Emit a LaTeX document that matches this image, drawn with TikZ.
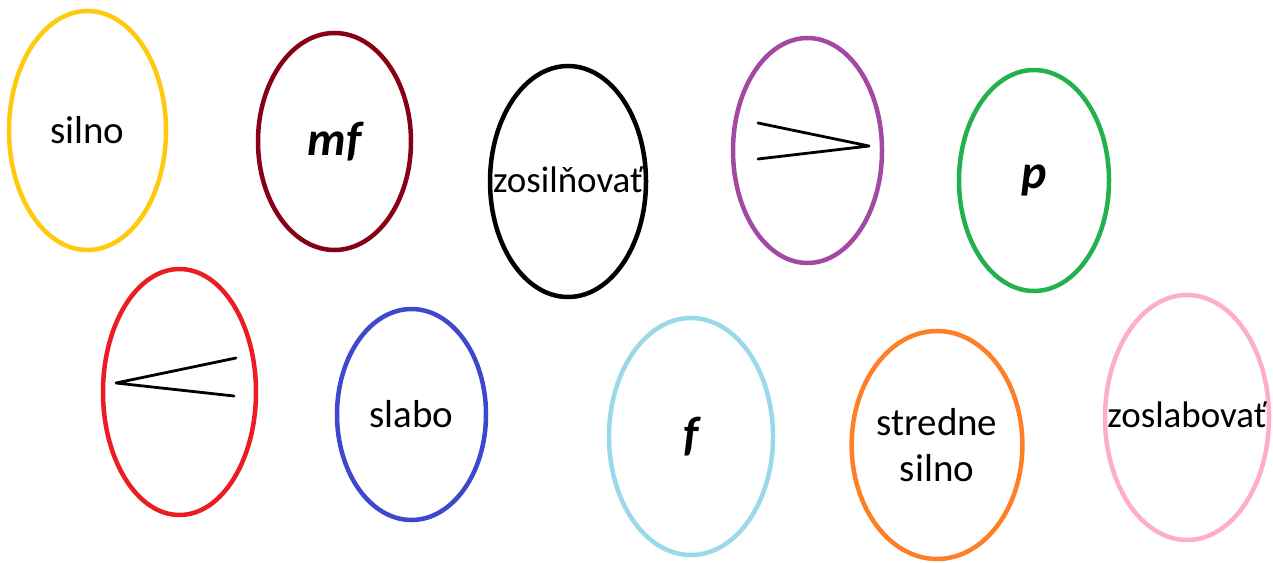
\documentclass[tikz,border=0pt]{standalone}
\usepackage{fontspec}
\setmainfont{Carlito}
\usetikzlibrary{shapes.geometric}
\definecolor{cyellow}{HTML}{FFC90E}
\definecolor{cdarkred}{HTML}{880015}
\definecolor{cpurple}{HTML}{A349A4}
\definecolor{cgreen}{HTML}{22B14C}
\definecolor{cred}{HTML}{ED1C24}
\definecolor{cblue}{HTML}{3F48CC}
\definecolor{clightblue}{HTML}{99D9EA}
\definecolor{corange}{HTML}{FF7F27}
\definecolor{cpink}{HTML}{FFAEC9}
\tikzset{
  oval/.style={ellipse, draw, line width=4.5pt, inner sep=0pt, align=center,
    font=\fontsize{39}{46}\selectfont},
  longtext/.style={font=\fontsize{37}{44}\selectfont},
  bigit/.style={font=\fontsize{48}{52}\selectfont\bfseries\itshape},
  stroke/.style={line width=2.8pt, line cap=round, line join=round}
}
\begin{document}
\begin{tikzpicture}[x=1pt,y=-1pt]
\useasboundingbox (0,0) rectangle (1273,562);
\node[oval, draw=cyellow, minimum width=157pt, minimum height=239pt] (silno) at (87.5,130.5) {silno};
\node[oval, draw=cdarkred, minimum width=153pt, minimum height=217pt, bigit] (mf) at (334.5,141.5) {mf};
\node[oval, draw=black, minimum width=156pt, minimum height=231pt, longtext] (zosil) at (568,181.5) {\raisebox{3pt}{\makebox[0pt]{zosilňovať}}};
\node[oval, draw=cpurple, minimum width=149pt, minimum height=225pt] (decr) at (807.5,150.5) {};
\node[oval, draw=cgreen, minimum width=150pt, minimum height=221pt, bigit] (p) at (1034,180.5) {p};
\node[oval, draw=cred, minimum width=153pt, minimum height=246pt] (cresc) at (179.5,392) {};
\node[oval, draw=cblue, minimum width=149pt, minimum height=211pt] (slabo) at (411.5,414.5) {slabo};
\node[oval, draw=clightblue, minimum width=164pt, minimum height=237pt, bigit] (f) at (691,436.5) {f};
\node[oval, draw=corange, minimum width=168pt, minimum height=228pt] (stredne) at (937,445) {stredne\\silno};
\node[oval, draw=cpink, minimum width=164pt, minimum height=245pt, longtext] (zoslab) at (1187,417.5) {\raisebox{6pt}{\makebox[0pt]{zoslabovať}}};
% decrescendo sign
\coordinate (d1) at (758,123);
\coordinate (d2) at (869,146);
\coordinate (d3) at (758,159);
\draw[stroke] (d1) -- (d2) -- (d3);
% crescendo sign
\coordinate (c1) at (236,358);
\coordinate (c2) at (116,383);
\coordinate (c3) at (234,396);
\draw[stroke] (c1) -- (c2) -- (c3);
\end{tikzpicture}
\end{document}
